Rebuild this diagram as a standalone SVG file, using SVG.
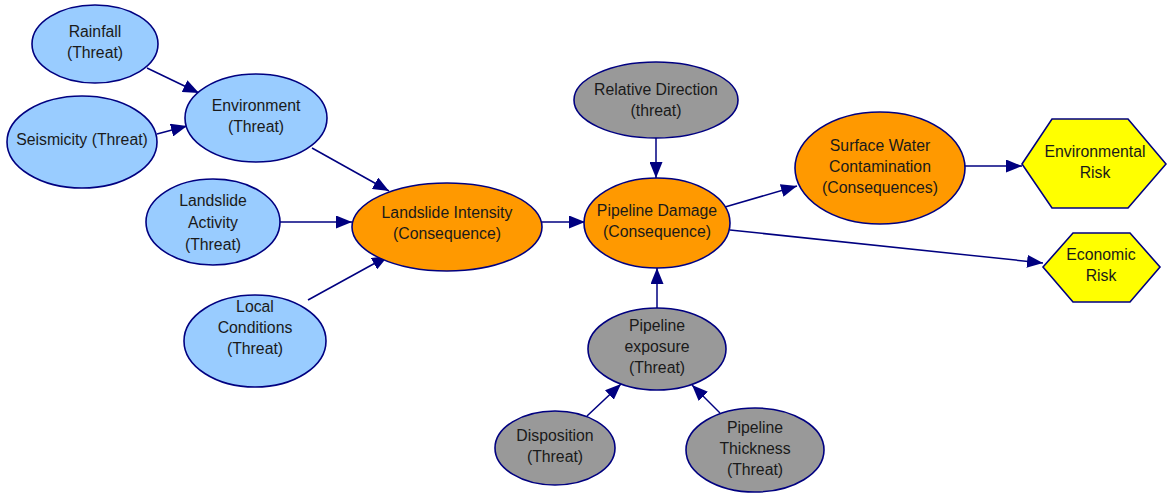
<svg xmlns="http://www.w3.org/2000/svg" width="1167" height="493" viewBox="0 0 1167 493">
<defs>
<marker id="ah" markerWidth="17" markerHeight="13" refX="16" refY="6.5" orient="auto" markerUnits="userSpaceOnUse">
<path d="M0,0 L16,6.5 L0,13 Z" fill="#000080"/>
</marker>
<style>
.n ellipse, .n polygon { stroke:#000080; stroke-width:1.6; }
.blue ellipse { fill:#99CCFF; }
.org ellipse { fill:#FF9900; }
.gry ellipse { fill:#999999; }
.yel polygon { fill:#FFFF00; }
text { font-family:"Liberation Sans", Arial, sans-serif; font-size:15.8px; fill:#1a1a1a; text-anchor:middle; }
#edges line { stroke:#000080; stroke-width:1.5; marker-end:url(#ah); }
</style>
</defs>
<rect width="1167" height="493" fill="#ffffff"/>
<g id="edges">
<line x1="147" y1="68" x2="199" y2="93"/>
<line x1="157" y1="134" x2="187" y2="126"/>
<line x1="312" y1="148" x2="389" y2="191"/>
<line x1="280" y1="222" x2="352" y2="222"/>
<line x1="308" y1="300" x2="388" y2="256"/>
<line x1="542" y1="222" x2="585" y2="222"/>
<line x1="656" y1="138" x2="656" y2="178"/>
<line x1="657" y1="308" x2="657" y2="268"/>
<line x1="725" y1="207" x2="797" y2="186"/>
<line x1="730" y1="230" x2="1043" y2="263"/>
<line x1="964" y1="166" x2="1022" y2="166"/>
<line x1="587" y1="416" x2="621" y2="384"/>
<line x1="720" y1="413" x2="692" y2="385"/>
</g>
<g id="rainfall" class="n blue"><ellipse cx="95" cy="44" rx="63" ry="39"/><text x="95" y="37">Rainfall</text><text x="95" y="58">(Threat)</text></g>
<g id="seismicity" class="n blue"><ellipse cx="82" cy="142" rx="75" ry="46"/><text x="82" y="145">Seismicity (Threat)</text></g>
<g id="environment" class="n blue"><ellipse cx="256" cy="118" rx="71" ry="44"/><text x="256" y="111">Environment</text><text x="256" y="132">(Threat)</text></g>
<g id="landslide-activity" class="n blue"><ellipse cx="213" cy="222" rx="67" ry="43"/><text x="213" y="206">Landslide</text><text x="213" y="228">Activity</text><text x="213" y="250">(Threat)</text></g>
<g id="local-conditions" class="n blue"><ellipse cx="255" cy="341" rx="71" ry="46"/><text x="255" y="312">Local</text><text x="255" y="333">Conditions</text><text x="255" y="354">(Threat)</text></g>
<g id="landslide-intensity" class="n org"><ellipse cx="447" cy="227" rx="95" ry="44"/><text x="447" y="218">Landslide Intensity</text><text x="447" y="239">(Consequence)</text></g>
<g id="relative-direction" class="n gry"><ellipse cx="656" cy="100" rx="82" ry="38"/><text x="656" y="95">Relative Direction</text><text x="656" y="116">(threat)</text></g>
<g id="pipeline-damage" class="n org"><ellipse cx="657" cy="223" rx="73" ry="45"/><text x="657" y="216">Pipeline Damage</text><text x="657" y="237">(Consequence)</text></g>
<g id="surface-water" class="n org"><ellipse cx="880" cy="168" rx="85" ry="56"/><text x="880" y="151">Surface Water</text><text x="880" y="172">Contamination</text><text x="880" y="193">(Consequences)</text></g>
<g id="environmental-risk" class="n yel"><polygon points="1022,164 1052,119 1128,119 1166,164 1128,208 1052,208"/><text x="1095" y="157">Environmental</text><text x="1095" y="178">Risk</text></g>
<g id="economic-risk" class="n yel"><polygon points="1043,267 1073,233 1130,233 1160,267 1130,302 1073,302"/><text x="1101" y="260">Economic</text><text x="1101" y="281">Risk</text></g>
<g id="pipeline-exposure" class="n gry"><ellipse cx="657" cy="349" rx="69" ry="41"/><text x="657" y="331">Pipeline</text><text x="657" y="352">exposure</text><text x="657" y="373">(Threat)</text></g>
<g id="disposition" class="n gry"><ellipse cx="555" cy="448" rx="60" ry="37"/><text x="555" y="441">Disposition</text><text x="555" y="462">(Threat)</text></g>
<g id="pipeline-thickness" class="n gry"><ellipse cx="755" cy="450" rx="69" ry="42"/><text x="755" y="433">Pipeline</text><text x="755" y="454">Thickness</text><text x="755" y="475">(Threat)</text></g>
</svg>
